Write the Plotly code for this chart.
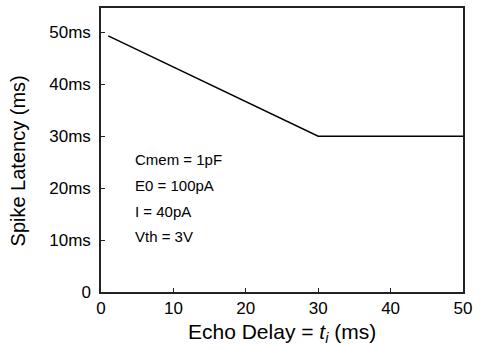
import plotly.graph_objects as go

delay = [1, 30, 50]
latency = [49.33, 30, 30]
ytick_vals = [0, 10, 20, 30, 40, 50]
ytick_text = ["0", "10ms", "20ms", "30ms", "40ms", "50ms"]
xtick_vals = [0, 10, 20, 30, 40, 50]
params = ["Cmem = 1pF", "E0 = 100pA", "I = 40pA", "Vth = 3V"]
param_y = [25.6, 20.6, 15.6, 10.6]

FONT = "Liberation Sans, Arial, sans-serif"

fig = go.Figure()
fig.add_trace(go.Scatter(x=delay, y=latency, mode="lines",
                         line=dict(color="black", width=1.5), showlegend=False))

for t, yy in zip(params, param_y):
    fig.add_annotation(x=4.4, y=yy, xref="x", yref="y", text=t, showarrow=False,
                       xanchor="left", yanchor="middle",
                       font=dict(family=FONT, size=15, color="black"))

fig.add_annotation(x=0.5, y=-0.143, xref="paper", yref="paper",
                   text="Echo Delay = <i>t<sub>i</sub></i> (ms)", showarrow=False,
                   xanchor="center", yanchor="middle",
                   font=dict(family=FONT, size=21, color="black"))
fig.add_annotation(x=-0.229, y=0.46, xref="paper", yref="paper",
                   text="Spike Latency (ms)", showarrow=False, textangle=-90,
                   xanchor="center", yanchor="middle",
                   font=dict(family=FONT, size=20, color="black"))

axis_common = dict(showline=True, linecolor="#222", linewidth=1.5, mirror=True,
                   ticks="inside", ticklen=4, tickcolor="#222", tickwidth=1,
                   showgrid=False, zeroline=False,
                   tickfont=dict(family=FONT, size=17, color="black"))

fig.update_xaxes(range=[0, 50], tickvals=xtick_vals, **axis_common)
fig.update_yaxes(range=[0, 54.7], tickvals=ytick_vals, ticktext=ytick_text,
                 ticklabelstandoff=5, **axis_common)

fig.update_layout(width=480, height=350, margin=dict(l=101, r=17, t=6, b=58),
                  plot_bgcolor="white", paper_bgcolor="white")

fig.write_html("out.html")
